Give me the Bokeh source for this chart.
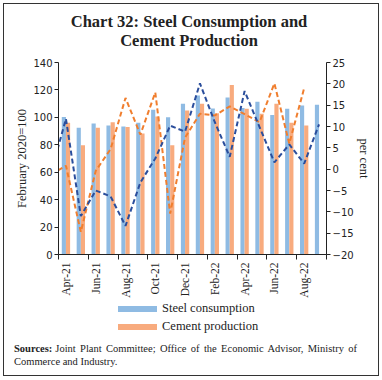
import numpy as np
from bokeh.plotting import figure
from bokeh.layouts import column
from bokeh.models import Range1d, LinearAxis, FixedTicker, Div
from bokeh.embed import file_html
from bokeh.resources import INLINE

# ---- data ----
months = ["Apr-21", "May-21", "Jun-21", "Jul-21", "Aug-21", "Sep-21", "Oct-21", "Nov-21", "Dec-21",
          "Jan-22", "Feb-22", "Mar-22", "Apr-22", "May-22", "Jun-22", "Jul-22", "Aug-22", "Sep-22"]
steel_index = [100.3, 92.4, 95.5, 94.0, 93.4, 96.0, 105.6, 100.0, 109.9,
               116.0, 106.5, 114.4, 106.8, 111.3, 101.7, 106.3, 108.7, 109.2]
cement_index = [96.0, 79.6, 92.4, 96.4, 93.0, 88.3, 100.7, 79.6, 105.0,
                110.0, 103.0, 123.6, 106.3, 102.7, 109.9, 96.0, 94.0]
# growth series start one month earlier (Mar-21), clipped at the axis
steel_growth = [-0.8, 11.8, -11.0, -5.0, -6.4, -13.3, -3.1, 2.5, 10.2, 8.8,
                20.1, 11.0, 2.9, 18.3, 9.9, 1.6, 5.8, 1.3, 10.5]
cement_growth = [-1.2, 0.8, -14.7, -0.4, 4.7, 16.7, 8.1, 18.0, -10.4, 7.4,
                 13.0, 12.6, 14.7, 12.9, 11.0, 20.1, 6.0, 19.0]
left_ticks = list(range(0, 141, 20))
right_ticks = list(range(-20, 26, 5))
series_names = ["Steel consumption", "Cement production"]
title_lines = ["Chart 32: Steel Consumption and", "Cement Production"]
source_label = "Sources:"
source_lines = ["Joint Plant Committee; Office of the Economic Advisor, Ministry of",
                "Commerce and Industry."]

BLUE_BAR = "#8fbbe3"
ORANGE_BAR = "#f8ab7e"
BLUE_LINE = "#2b4e9c"
ORANGE_LINE = "#f07e2e"
SERIF = "Liberation Serif"
W = 374

# title (HTML, centred lines)
title_html = ('<div style="font-family:\'Liberation Serif\';font-weight:bold;font-size:16.5px;'
              'color:#222;line-height:19px;text-align:center;width:370px;padding-top:8px">'
              + "".join('<div>%s</div>' % t for t in title_lines) + '</div>')
title_div = Div(text=title_html, width=W, height=50, margin=0)

p = figure(width=W, height=246, output_backend="svg", toolbar_location=None,
           x_range=Range1d(0, len(months)), y_range=Range1d(0, 140),
           min_border_left=54, min_border_right=52, min_border_top=8, min_border_bottom=44)
p.outline_line_color = None
p.xgrid.visible = False
p.ygrid.visible = False
p.extra_y_ranges = {"pct": Range1d(-20, 25)}

n = len(months)
xc = np.arange(n) + 0.5
bw = 0.28
p.vbar(x=xc[:len(steel_index)] - bw / 2, top=steel_index, width=bw,
       fill_color=BLUE_BAR, line_color=None)
p.vbar(x=xc[:len(cement_index)] + bw / 2, top=cement_index, width=bw,
       fill_color=ORANGE_BAR, line_color=None)

xg_s = np.arange(len(steel_growth)) - 0.5
xg_c = np.arange(len(cement_growth)) - 0.5
p.line(xg_c, cement_growth, y_range_name="pct", line_color=ORANGE_LINE, line_width=2, line_dash="5 3")
p.line(xg_s, steel_growth, y_range_name="pct", line_color=BLUE_LINE, line_width=2, line_dash="5 3")

# x axis
xax = p.xaxis[0]
xax.ticker = FixedTicker(ticks=list(xc[::2]), minor_ticks=list(range(0, n + 1, 2)))
xax.major_label_overrides = {float(x): m for x, m in zip(xc[::2], months[::2])}
xax.major_label_orientation = np.pi / 2
xax.major_tick_line_color = None
xax.major_tick_out = 0
xax.minor_tick_out = 5
xax.minor_tick_in = 0
xax.minor_tick_line_color = "#222"
xax.axis_line_color = "#222"
xax.major_label_text_font = SERIF
xax.major_label_text_font_size = "11.5px"
xax.major_label_text_color = "#222"
xax.major_label_standoff = 3

# left axis
yax = p.yaxis[0]
yax.ticker = FixedTicker(ticks=left_ticks)
yax.minor_tick_line_color = None
yax.major_tick_out = 4
yax.major_tick_in = 0
yax.axis_line_color = "#222"
yax.major_tick_line_color = "#222"
yax.major_label_text_font = "DejaVu Sans"
yax.major_label_text_font_size = "10px"
yax.major_label_text_color = "#222"
yax.major_label_standoff = 2
yax.axis_label = "February 2020=100"
yax.axis_label_text_font = SERIF
yax.axis_label_text_font_style = "normal"
yax.axis_label_text_font_size = "12.5px"
yax.axis_label_text_color = "#222"
yax.axis_label_standoff = 1

rax = LinearAxis(y_range_name="pct", ticker=FixedTicker(ticks=right_ticks))
rax.minor_tick_line_color = None
rax.major_tick_out = 4
rax.major_tick_in = 0
rax.axis_line_color = "#222"
rax.major_tick_line_color = "#222"
rax.major_label_text_font = "DejaVu Sans"
rax.major_label_text_font_size = "10px"
rax.major_label_text_color = "#222"
rax.major_label_standoff = 2
rax.axis_label = "per cent"
rax.axis_label_text_font = SERIF
rax.axis_label_text_font_style = "normal"
rax.axis_label_text_font_size = "12.5px"
rax.axis_label_text_color = "#222"
rax.axis_label_standoff = 0
p.add_layout(rax, "right")

# legend (HTML)
swatch = ('<div style="height:17.5px;line-height:17.5px;white-space:nowrap">'
          '<span style="display:inline-block;width:39px;height:6px;background:{c};'
          'vertical-align:middle;margin-right:5px"></span>{t}</div>')
legend_html = ('<div style="font-family:\'Liberation Serif\';font-size:12.5px;color:#222;'
               'padding-left:114px;padding-top:0px">'
               + "".join(swatch.format(c=c, t=t) for c, t in zip([BLUE_BAR, ORANGE_BAR], series_names))
               + '</div>')
legend_div = Div(text=legend_html, width=W, height=40, margin=0)

sources_html = ('<div style="font-family:\'Liberation Serif\';font-size:10.5px;color:#222;'
                'line-height:13px;width:353px;padding-left:10px;padding-top:2px">'
                '<div style="text-align:justify;text-align-last:justify;white-space:nowrap;'
                'display:flex;justify-content:space-between">'
                '<b>%s</b><span style="flex:1;text-align:justify;text-align-last:justify;'
                'margin-left:3px">%s</span></div>'
                '<div>%s</div></div>') % (source_label, source_lines[0], source_lines[1])
sources_div = Div(text=sources_html, width=W, height=35, margin=0)

layout = column(title_div, p, legend_div, sources_div, spacing=0)
layout.styles = {"border": "1px solid #333", "margin": "3px 0 0 3px"}

open("out.html", "w").write(file_html(layout, INLINE))
